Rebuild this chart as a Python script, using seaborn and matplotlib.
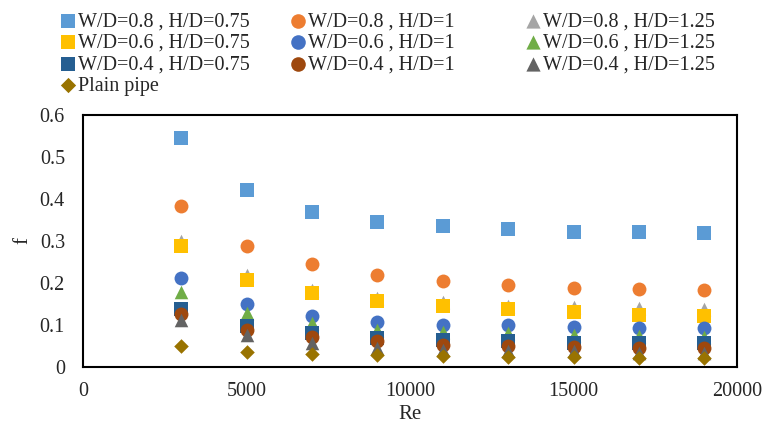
import matplotlib
matplotlib.use("Agg")
import matplotlib.pyplot as plt
import seaborn as sns
import pandas as pd

re_vals = [3000, 5000, 7000, 9000, 11000, 13000, 15000, 17000, 19000]

wd08_hd075 = [0.545, 0.422, 0.369, 0.346, 0.335, 0.329, 0.322, 0.322, 0.319]
wd08_hd1 = [0.383, 0.289, 0.246, 0.218, 0.204, 0.195, 0.188, 0.185, 0.183]
wd08_hd125 = [0.300, 0.218, 0.184, 0.164, 0.154, 0.146, 0.144, 0.140, 0.139]
wd06_hd075 = [0.288, 0.208, 0.176, 0.156, 0.145, 0.138, 0.132, 0.125, 0.122]
wd06_hd1 = [0.212, 0.151, 0.122, 0.108, 0.100, 0.100, 0.096, 0.094, 0.094]
wd06_hd125 = [0.178, 0.128, 0.104, 0.088, 0.084, 0.080, 0.077, 0.073, 0.071]
wd04_hd075 = [0.138, 0.098, 0.080, 0.069, 0.065, 0.061, 0.058, 0.056, 0.056]
wd04_hd1 = [0.126, 0.089, 0.071, 0.061, 0.053, 0.049, 0.047, 0.045, 0.045]
wd04_hd125 = [0.112, 0.077, 0.058, 0.045, 0.041, 0.037, 0.037, 0.033, 0.033]
plain_pipe = [0.049, 0.035, 0.031, 0.029, 0.027, 0.025, 0.023, 0.022, 0.022]

labels = ["W/D=0.8 , H/D=0.75", "W/D=0.8 , H/D=1", "W/D=0.8 , H/D=1.25",
          "W/D=0.6 , H/D=0.75", "W/D=0.6 , H/D=1", "W/D=0.6 , H/D=1.25",
          "W/D=0.4 , H/D=0.75", "W/D=0.4 , H/D=1", "W/D=0.4 , H/D=1.25",
          "Plain pipe"]
series = [wd08_hd075, wd08_hd1, wd08_hd125, wd06_hd075, wd06_hd1, wd06_hd125,
          wd04_hd075, wd04_hd1, wd04_hd125, plain_pipe]
colors = ["#5B9BD5", "#ED7D31", "#A5A5A5", "#FFC000", "#4472C4", "#70AD47",
          "#255E91", "#9E480E", "#636363", "#997300"]
markers = ["s", "o", "^", "s", "o", "^", "s", "o", "^", "D"]
sizes = [95, 100, 95, 95, 100, 95, 95, 100, 95, 55]

rows = []
for lab, vals in zip(labels, series):
    for r, v in zip(re_vals, vals):
        rows.append({"Re": r, "f": v, "series": lab})
df = pd.DataFrame(rows)

sns.set_style("white")
plt.rcParams["font.family"] = ["Liberation Serif", "DejaVu Serif"]

W, H = 766, 429
fig = plt.figure(figsize=(W / 100, H / 100), dpi=100)
ax = fig.add_axes([83 / W, 1 - 367 / H, (737 - 83) / W, (367 - 115) / H])

handles = {}
for i in range(len(labels)):
    sub = df[df["series"] == labels[i]]
    sns.scatterplot(data=sub, x="Re", y="f", ax=ax, color=colors[i],
                    marker=markers[i], s=sizes[i], linewidth=0,
                    label=labels[i], legend=False)
    handles[labels[i]] = ax.collections[-1]

ax.set_xlim(0, 20000)
ax.set_ylim(0, 0.6)
ax.set_xticks([0, 5000, 10000, 15000, 20000])
ax.set_yticks([0, 0.1, 0.2, 0.3, 0.4, 0.5, 0.6])
ax.set_yticklabels(["0", "0.1", "0.2", "0.3", "0.4", "0.5", "0.6"])
ax.tick_params(axis="both", length=0, labelsize=14.5)
ax.tick_params(axis="y", pad=13)
ax.tick_params(axis="x", pad=11)
for sp in ax.spines.values():
    sp.set_visible(True)
    sp.set_color("black")
    sp.set_linewidth(1.5)
ax.set_xlabel("Re", fontsize=15, labelpad=3)
ax.set_ylabel("f", fontsize=15, labelpad=5)

columns = [[0, 3, 6, 9], [1, 4, 7], [2, 5, 8]]
col_x = [58, 288, 523]
for cols, x0 in zip(columns, col_x):
    leg = fig.legend([handles[labels[i]] for i in cols],
                     [labels[i] for i in cols], ncol=1, loc="upper left",
                     bbox_to_anchor=(x0 / W, 1 - 12 / H), frameon=False,
                     fontsize=14.5, handletextpad=0.0, labelspacing=0.12,
                     handlelength=1.0, markerscale=1.05, borderpad=0,
                     borderaxespad=0)

fig.savefig("out.png", dpi=100)
